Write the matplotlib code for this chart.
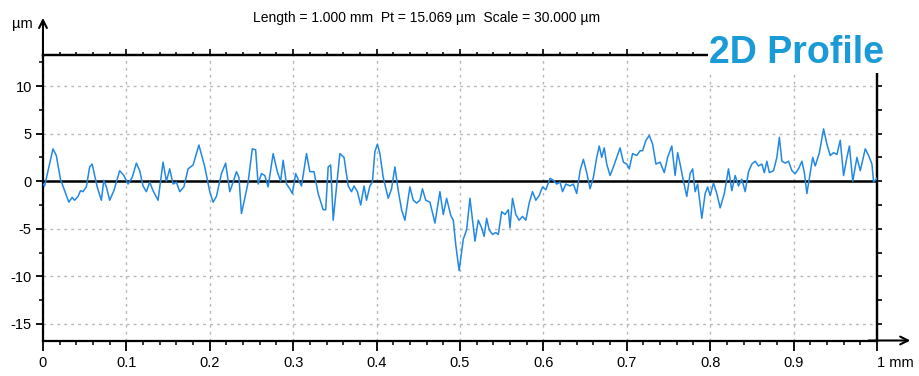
import numpy as np
import matplotlib
matplotlib.use('Agg')
import matplotlib.pyplot as plt
from matplotlib.transforms import ScaledTranslation

# perfil 2D (x en mm, z en um)
x_mm = [0.000, 0.002, 0.012, 0.016, 0.021, 0.026, 0.031, 0.035, 0.038, 0.042,
        0.045, 0.048, 0.052, 0.056, 0.059, 0.062, 0.065, 0.070, 0.073, 0.076,
        0.080, 0.085, 0.092, 0.097, 0.102, 0.107, 0.112, 0.116, 0.120, 0.124,
        0.128, 0.132, 0.138, 0.144, 0.148, 0.152, 0.156, 0.160, 0.164, 0.169,
        0.174, 0.180, 0.187, 0.194, 0.200, 0.204, 0.208, 0.214, 0.219, 0.224,
        0.228, 0.232, 0.235, 0.238, 0.242, 0.246, 0.251, 0.255, 0.258, 0.262,
        0.266, 0.270, 0.276, 0.281, 0.285, 0.288, 0.292, 0.296, 0.299, 0.303,
        0.307, 0.310, 0.316, 0.320, 0.325, 0.330, 0.336, 0.339, 0.342, 0.345,
        0.348, 0.352, 0.356, 0.361, 0.366, 0.370, 0.373, 0.377, 0.381, 0.385,
        0.388, 0.392, 0.395, 0.398, 0.401, 0.404, 0.408, 0.414, 0.418, 0.422,
        0.426, 0.430, 0.434, 0.440, 0.444, 0.448, 0.452, 0.455, 0.459, 0.464,
        0.470, 0.476, 0.480, 0.484, 0.489, 0.492, 0.495, 0.499, 0.504, 0.508,
        0.512, 0.516, 0.518, 0.522, 0.526, 0.529, 0.532, 0.535, 0.539, 0.543,
        0.546, 0.550, 0.554, 0.558, 0.560, 0.563, 0.567, 0.571, 0.575, 0.579,
        0.583, 0.587, 0.591, 0.595, 0.599, 0.603, 0.608, 0.612, 0.616, 0.620,
        0.623, 0.627, 0.632, 0.636, 0.640, 0.644, 0.648, 0.652, 0.656, 0.660,
        0.664, 0.667, 0.670, 0.673, 0.676, 0.680, 0.684, 0.688, 0.692, 0.696,
        0.700, 0.703, 0.707, 0.712, 0.716, 0.719, 0.723, 0.727, 0.731, 0.735,
        0.740, 0.745, 0.749, 0.754, 0.758, 0.761, 0.764, 0.768, 0.772, 0.776,
        0.779, 0.782, 0.785, 0.790, 0.794, 0.797, 0.800, 0.804, 0.808, 0.812,
        0.817, 0.822, 0.826, 0.830, 0.834, 0.838, 0.842, 0.846, 0.850, 0.854,
        0.858, 0.862, 0.865, 0.868, 0.871, 0.876, 0.880, 0.883, 0.886, 0.890,
        0.894, 0.898, 0.902, 0.906, 0.910, 0.913, 0.916, 0.920, 0.923, 0.926,
        0.931, 0.936, 0.940, 0.944, 0.948, 0.952, 0.956, 0.960, 0.964, 0.967,
        0.971, 0.976, 0.980, 0.986, 0.990, 0.994, 0.996, 1.000]
z_um = [-0.3, -0.5, 3.4, 2.7, 0.2, -1.0, -2.2, -1.7, -2.0, -1.6,
        -1.0, -1.1, -0.6, 1.5, 1.8, 0.6, -0.6, -2.0, 0.1, -0.6,
        -2.0, -1.0, 1.1, 0.6, -0.3, 0.4, 1.9, 1.1, -0.5, -1.1,
        -0.1, -1.0, -2.0, 2.0, 0.0, 1.3, -0.3, -0.1, -1.1, -0.6,
        1.3, 1.7, 3.8, 1.5, -1.1, -2.2, -1.6, 0.8, 1.9, -1.1,
        -0.1, 1.0, 0.4, -3.4, -1.8, -0.1, 3.4, 3.3, -0.3, 0.8,
        0.6, -0.6, 2.9, 1.0, 0.0, 2.2, -0.3, -0.8, -1.3, 0.8,
        0.0, -0.5, 2.9, 1.0, 1.0, -1.3, -3.0, -3.0, 1.5, 1.7,
        -4.1, -0.6, 2.9, 2.5, -0.5, -1.1, -0.5, -1.1, -2.5, -0.5,
        -2.0, -0.5, -0.1, 3.1, 3.9, 2.9, 0.4, -1.8, -0.8, 1.5,
        -1.0, -3.0, -4.1, -0.6, -2.0, -2.3, -2.0, -0.8, -2.0, -2.2,
        -4.4, -1.1, -3.5, -1.8, -3.6, -4.1, -6.7, -9.4, -6.1, -5.1,
        -1.8, -4.8, -6.3, -4.1, -4.9, -5.8, -3.9, -5.1, -5.6, -5.4,
        -5.6, -3.2, -3.5, -3.0, -4.9, -1.8, -3.5, -4.1, -3.7, -4.1,
        -2.3, -1.1, -2.0, -1.5, -0.6, -0.9, 0.3, 0.1, -0.3, -0.1,
        -1.1, -0.3, -0.5, -0.3, -1.3, 1.1, 2.3, 0.9, -0.8, 0.4,
        2.5, 3.7, 2.5, 3.5, 1.8, 0.6, 1.5, 2.5, 3.5, 2.0,
        1.8, 1.3, 2.9, 2.7, 3.2, 3.2, 4.3, 4.8, 3.9, 1.8,
        2.0, 0.9, 2.5, 3.7, 0.6, 3.0, 1.8, 0.0, -1.6, 0.8,
        1.3, -1.1, -0.3, -3.9, -1.3, -0.6, -1.5, -0.2, -1.3, -2.8,
        -1.3, 1.3, -1.0, 0.6, -0.5, 0.2, -1.1, 1.0, 1.8, 2.1,
        1.6, 1.8, 0.9, 2.1, 0.9, 1.1, 2.5, 4.6, 2.1, 1.9,
        2.1, 1.1, 0.8, 1.3, 2.1, 0.9, -1.3, 0.9, 2.5, 1.6,
        3.0, 5.5, 3.9, 2.7, 3.0, 2.8, 4.3, 0.6, 2.5, 3.7,
        0.0, 2.5, 1.1, 3.4, 2.7, 1.8, -0.1, 0.3]

x_ticks = [0, 0.1, 0.2, 0.3, 0.4, 0.5, 0.6, 0.7, 0.8, 0.9, 1.0]
x_labels = ['0', '0.1', '0.2', '0.3', '0.4', '0.5', '0.6', '0.7', '0.8', '0.9', '1 mm']
y_ticks = [-15, -10, -5, 0, 5, 10]

titulo = 'Length = 1.000 mm  Pt = 15.069 µm  Scale = 30.000 µm'

plt.rcParams['font.family'] = ['Liberation Sans', 'DejaVu Sans']

fig = plt.figure(figsize=(9.2, 3.76), dpi=100)
ax = fig.add_axes([0.0467, 0.0944, 0.9065, 0.7593])

ax.plot(x_mm, z_um, color='#2288e3', lw=1.1, zorder=3)
ax.axhline(0, color='black', lw=1.8, zorder=2)

ax.set_xlim(0, 1)
ax.set_ylim(-16.74, 13.26)

ax.set_xticks(x_ticks)
ax.set_xticklabels(x_labels, fontsize=10.5)
ax.set_xticks(np.arange(0, 1.001, 0.02), minor=True)
ax.set_yticks(y_ticks)
ax.set_yticklabels([str(v) for v in y_ticks], fontsize=10.5)
ax.set_yticks(np.arange(-15, 13, 2.5), minor=True)

# "1 mm": el 1 queda sobre la marca
lbl = ax.get_xticklabels()[-1]
lbl.set_horizontalalignment('left')
lbl.set_transform(lbl.get_transform() + ScaledTranslation(-4 / 72, 0, fig.dpi_scale_trans))

ax.grid(True, which='major', ls=(0, (2, 3)), color='#b8b8b8', lw=1)

ax.tick_params(axis='x', which='major', direction='out', length=7, width=1.3, pad=4)
ax.tick_params(axis='x', which='minor', direction='out', length=3, width=1.1)
ax.tick_params(axis='y', which='major', direction='out', length=5, width=1.3, pad=3)
ax.tick_params(axis='y', which='minor', direction='out', length=3, width=1.1)

for s in ax.spines.values():
    s.set_linewidth(1.6)

# ejes secundarios solo para las marcas arriba y a la derecha
top = ax.secondary_xaxis('top')
top.set_xticks(x_ticks)
top.set_xticks(np.arange(0, 1.001, 0.02), minor=True)
top.tick_params(which='major', direction='out', length=4.5, width=1.2, labeltop=False)
top.tick_params(which='minor', direction='out', length=2.5, width=1.1)
top.spines['top'].set_linewidth(1.6)

right = ax.secondary_yaxis('right')
right.set_yticks(np.arange(-15, 13, 2.5))
right.tick_params(direction='out', length=3.5, width=1.2, labelright=False)
right.spines['right'].set_linewidth(1.6)

# flechas de los ejes
ax.annotate('', xy=(0, 1.13), xytext=(0, 0.99), xycoords='axes fraction',
            arrowprops=dict(arrowstyle='->', lw=1.5, color='black', mutation_scale=14,
                            shrinkA=0, shrinkB=0))
ax.annotate('', xy=(1.04, 0), xytext=(0.99, 0), xycoords='axes fraction',
            arrowprops=dict(arrowstyle='->', lw=1.5, color='black', mutation_scale=14,
                            shrinkA=0, shrinkB=0))

fig.text(0.024, 0.935, 'µm', fontsize=10.5, ha='center', va='center')
fig.text(0.464, 0.952, titulo, fontsize=10, ha='center', va='center')
fig.text(0.961, 0.858, '2D Profile', fontsize=27, fontweight='bold', color='#1a9ad6',
         ha='right', va='center', zorder=10,
         bbox=dict(facecolor='white', edgecolor='none', pad=1))

fig.savefig('out.png', dpi=100)
